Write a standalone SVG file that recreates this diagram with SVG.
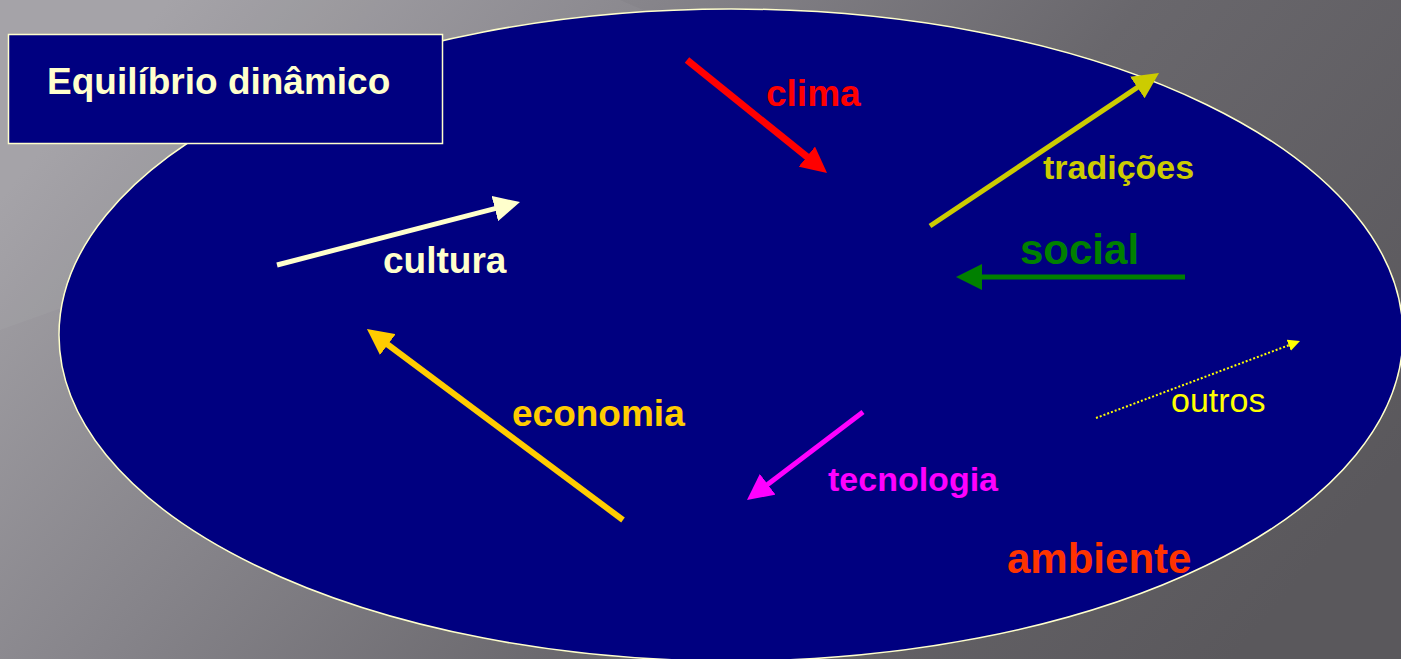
<svg xmlns="http://www.w3.org/2000/svg" width="1401" height="659" viewBox="0 0 1401 659">
  <defs>
    <linearGradient id="bg" x1="0" y1="0.3" x2="1" y2="0.7">
      <stop offset="0" stop-color="#a2a0a5"/>
      <stop offset="0.3" stop-color="#86848a"/>
      <stop offset="0.6" stop-color="#69676c"/>
      <stop offset="1" stop-color="#5a585c"/>
    </linearGradient>
    <marker id="m-red" markerUnits="userSpaceOnUse" viewBox="0 0 26 26" markerWidth="26" markerHeight="26" refX="1" refY="13" orient="auto"><path d="M0,0 L26,13 L0,26 z" fill="#ff0000"/></marker>
    <marker id="m-trad" markerUnits="userSpaceOnUse" viewBox="0 0 26 26" markerWidth="26" markerHeight="26" refX="1" refY="13" orient="auto"><path d="M0,0 L26,13 L0,26 z" fill="#cccc00"/></marker>
    <marker id="m-green" markerUnits="userSpaceOnUse" viewBox="0 0 26 26" markerWidth="26" markerHeight="26" refX="1" refY="13" orient="auto"><path d="M0,0 L26,13 L0,26 z" fill="#008000"/></marker>
    <marker id="m-cream" markerUnits="userSpaceOnUse" viewBox="0 0 26 26" markerWidth="26" markerHeight="26" refX="1" refY="13" orient="auto"><path d="M0,0 L26,13 L0,26 z" fill="#ffffcc"/></marker>
    <marker id="m-gold" markerUnits="userSpaceOnUse" viewBox="0 0 26 26" markerWidth="26" markerHeight="26" refX="1" refY="13" orient="auto"><path d="M0,0 L26,13 L0,26 z" fill="#ffcc00"/></marker>
    <marker id="m-mag" markerUnits="userSpaceOnUse" viewBox="0 0 26 26" markerWidth="26" markerHeight="26" refX="1" refY="13" orient="auto"><path d="M0,0 L26,13 L0,26 z" fill="#ff00ff"/></marker>
    <marker id="m-yel" markerUnits="userSpaceOnUse" viewBox="0 0 12 12" markerWidth="12" markerHeight="12" refX="1" refY="6" orient="auto"><path d="M0,0 L12,6 L0,12 z" fill="#ffff00"/></marker>
  </defs>
  <style>
    .lbl { font-family: "Liberation Sans", Arial, sans-serif; font-weight: bold; }
    .arrow { fill: none; stroke-linecap: butt; }
  </style>

  <rect x="0" y="0" width="1401" height="659" fill="url(#bg)"/>
  <polygon points="0,0 620,0 760,60 0,330" fill="#ffffff" opacity="0.04"/>

  <g id="ambiente-ellipse">
    <ellipse cx="731" cy="335" rx="672" ry="326" fill="#000080" stroke="#ffffcc" stroke-width="1.5"/>
  </g>

  <g id="title">
    <rect x="8.5" y="34.5" width="434" height="109" fill="#000080" stroke="#ffffcc" stroke-width="1.5"/>
    <text class="lbl" x="47" y="94" font-size="37" fill="#ffffcc">Equilíbrio dinâmico</text>
  </g>

  <g id="connectors">
    <line class="arrow" x1="687" y1="60" x2="807.6" y2="157.3" stroke="#ff0000" stroke-width="7" marker-end="url(#m-red)"/>
    <line class="arrow" x1="930" y1="226" x2="1138.2" y2="86.9" stroke="#cccc00" stroke-width="5" marker-end="url(#m-trad)"/>
    <line class="arrow" x1="1185" y1="277" x2="981" y2="277" stroke="#008000" stroke-width="5" marker-end="url(#m-green)"/>
    <line class="arrow" x1="277" y1="265" x2="495.8" y2="208.3" stroke="#ffffcc" stroke-width="5" marker-end="url(#m-cream)"/>
    <line class="arrow" x1="623" y1="520" x2="387" y2="344" stroke="#ffcc00" stroke-width="6" marker-end="url(#m-gold)"/>
    <line class="arrow" x1="863" y1="412" x2="766.9" y2="484.9" stroke="#ff00ff" stroke-width="5" marker-end="url(#m-mag)"/>
    <line class="arrow" x1="1096" y1="418" x2="1289.7" y2="344.9" stroke="#ffff00" stroke-width="2" stroke-dasharray="2,2" marker-end="url(#m-yel)"/>
  </g>

  <g id="clima"><text class="lbl" x="766" y="106" font-size="37" fill="#ff0000">clima</text></g>
  <g id="tradicoes"><text class="lbl" x="1043" y="179" font-size="34" fill="#cccc00">tradições</text></g>
  <g id="social"><text class="lbl" x="1020" y="264" font-size="42" fill="#008000">social</text></g>
  <g id="cultura"><text class="lbl" x="383" y="273" font-size="37" fill="#ffffcc">cultura</text></g>
  <g id="economia"><text class="lbl" x="512" y="426" font-size="37" fill="#ffcc00">economia</text></g>
  <g id="tecnologia"><text class="lbl" x="828" y="491" font-size="34" fill="#ff00ff">tecnologia</text></g>
  <g id="outros"><text x="1171" y="412" font-size="34" fill="#ffff00" font-family="Liberation Sans, Arial, sans-serif">outros</text></g>
  <g id="ambiente"><text class="lbl" x="1007" y="573" font-size="42" fill="#ff3300">ambiente</text></g>
</svg>
